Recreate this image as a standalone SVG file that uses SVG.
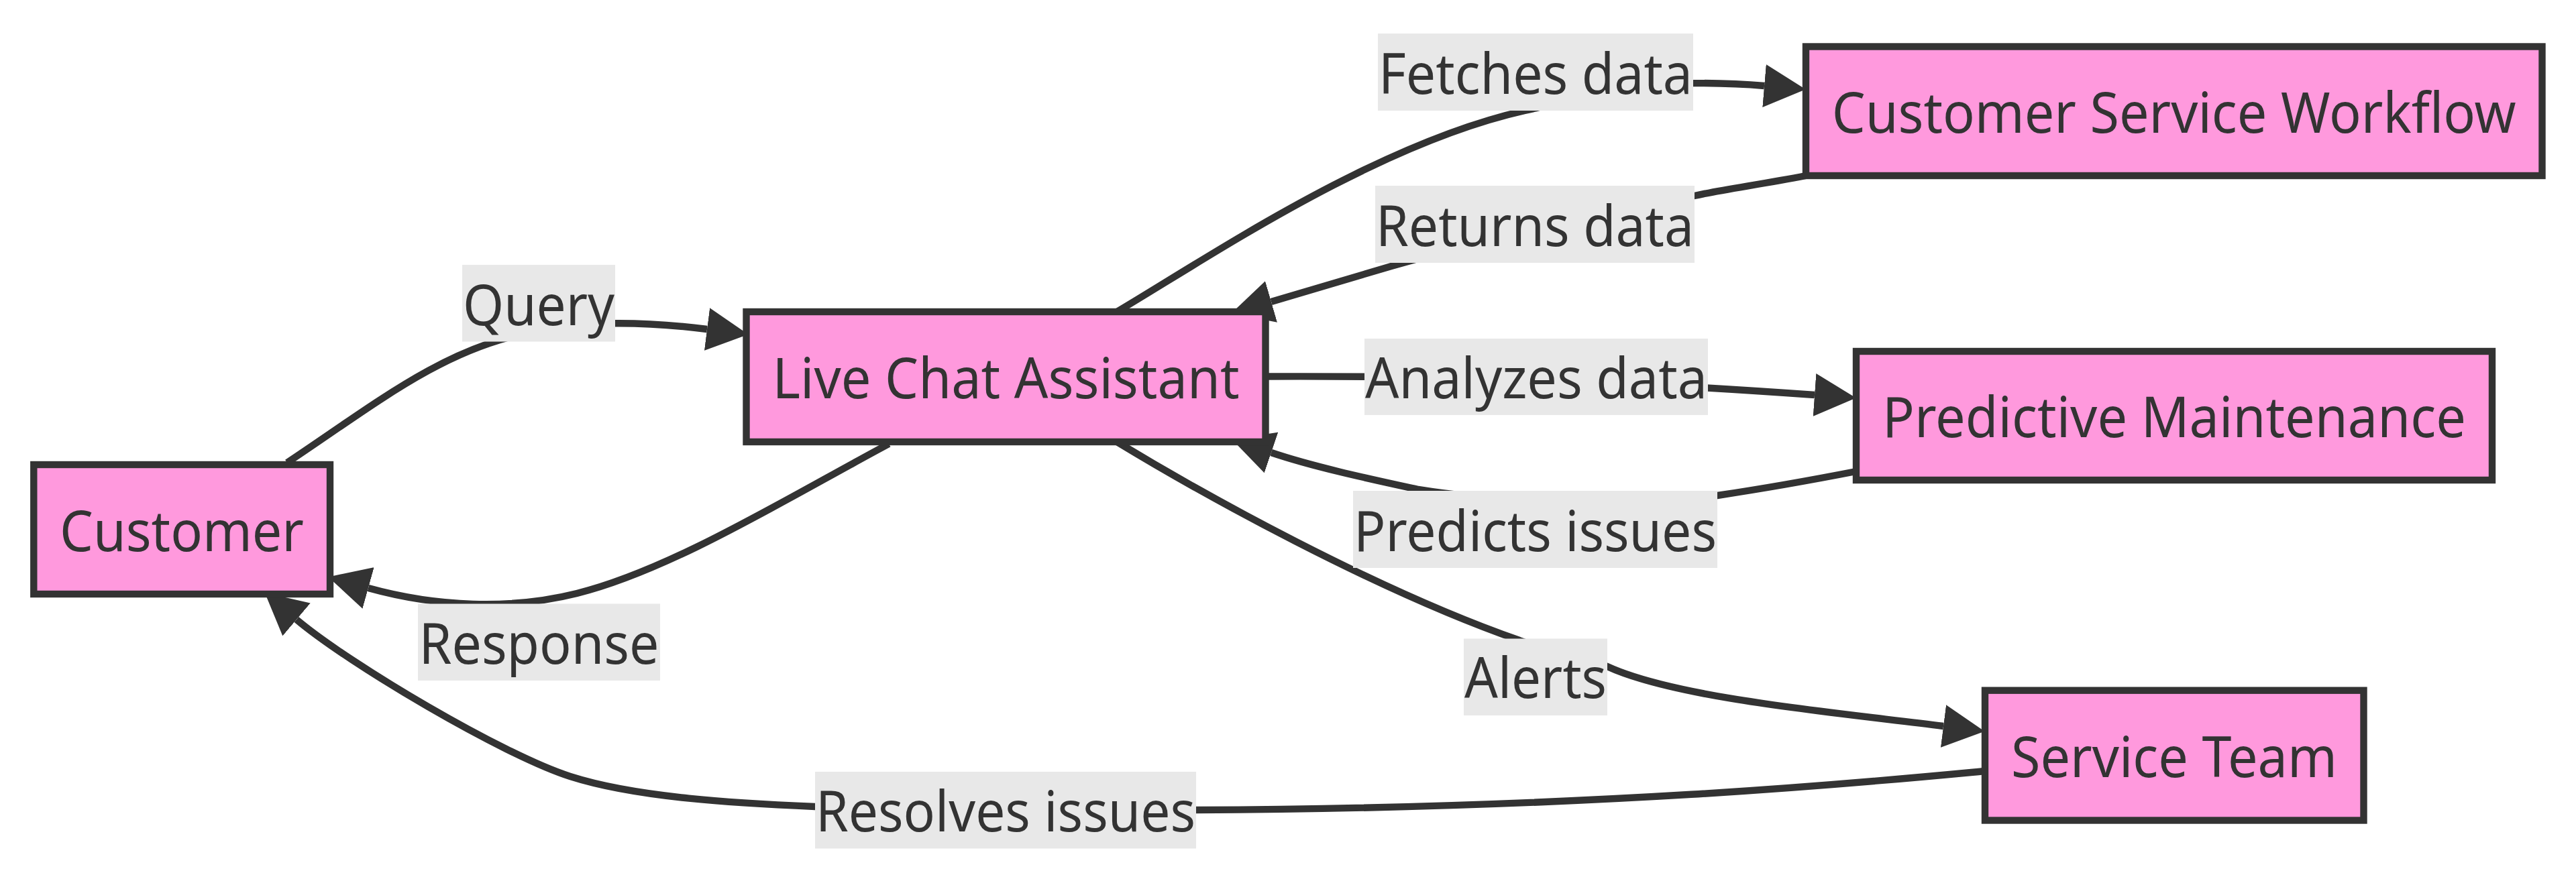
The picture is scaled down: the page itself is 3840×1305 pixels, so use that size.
<svg xmlns="http://www.w3.org/2000/svg" width="3840" height="1305" viewBox="0 0 3840 1305">
<style>
.edge{fill:none;stroke:#333;stroke-width:10.4}
.head{marker-end:url(#arrow)}
.box{fill:#ff99dd;stroke:#333;stroke-width:10.4}
.bg{fill:#e8e8e8}
text{font-family:"Noto Sans","Open Sans",sans-serif;font-size:84px;fill:#333;text-anchor:middle}
</style>
<defs><marker id="arrow" markerUnits="userSpaceOnUse" markerWidth="62" markerHeight="64" viewBox="0 0 60 62" refX="0" refY="31" orient="auto"><path d="M0,0L60,31L0,62z" fill="#333"/></marker></defs>
<rect width="3840" height="1305" fill="#fff"/>
<g id="connectors">
<path class="edge head" d="M428,690C556,605 660,520 790,496C860,478 960,479 1054,491"/>
<path class="edge head" d="M1325,662C1170,745 1000,850 860,885C760,910 650,905 549,877"/>
<path class="edge head" d="M1665,465C1800,385 2050,215 2273,165C2340,150 2440,122 2524,124C2560,124 2595,125 2630,128"/>
<path class="edge head" d="M2692,262C2620,276 2570,282 2526,292C2400,320 2230,352 2074,397C2010,416 1950,434 1895,450"/>
<path class="edge head" d="M1886,561.5C2000,561 2150,562 2300,568C2400,570 2550,578 2705,589"/>
<path class="edge head" d="M2767,703C2690,718 2620,730 2560,739C2450,755 2250,752 2114,730C2050,716 1960,697 1895,675"/>
<path class="edge head" d="M1665,659C1790,735 2050,880 2265,955C2310,972 2350,974 2396,994C2500,1042 2740,1063 2897,1083"/>
<path class="edge head" d="M2959,1150C2800,1165 2400,1205 1783,1208C1600,1209 1400,1210 1215,1203C1100,1198 950,1190 850,1158C750,1126 520,990 442,924"/>
</g>
<g id="edge-labels">
<g id="label-query"><rect class="bg" x="689" y="395" width="228" height="114.5"/><text x="803" y="485" textLength="226" lengthAdjust="spacingAndGlyphs">Query</text></g>
<g id="label-response"><rect class="bg" x="623" y="900.5" width="361" height="114.5"/><text x="803.5" y="990" textLength="358" lengthAdjust="spacingAndGlyphs">Response</text></g>
<g id="label-fetches"><rect class="bg" x="2054" y="50" width="470" height="115"/><text x="2289" y="140" textLength="468" lengthAdjust="spacingAndGlyphs">Fetches data</text></g>
<g id="label-returns"><rect class="bg" x="2050" y="277" width="476" height="115"/><text x="2288" y="367" textLength="474" lengthAdjust="spacingAndGlyphs">Returns data</text></g>
<g id="label-analyzes"><rect class="bg" x="2034" y="505" width="512" height="114"/><text x="2290" y="594" textLength="510" lengthAdjust="spacingAndGlyphs">Analyzes data</text></g>
<g id="label-predicts"><rect class="bg" x="2017" y="732" width="543" height="115"/><text x="2288.5" y="822" textLength="541" lengthAdjust="spacingAndGlyphs">Predicts issues</text></g>
<g id="label-alerts"><rect class="bg" x="2182" y="952.5" width="214" height="114.5"/><text x="2289" y="1041" textLength="212" lengthAdjust="spacingAndGlyphs">Alerts</text></g>
<g id="label-resolves"><rect class="bg" x="1215" y="1151" width="568" height="114.5"/><text x="1499" y="1240" textLength="566" lengthAdjust="spacingAndGlyphs">Resolves issues</text></g>
</g>
<g id="node-customer"><rect class="box" x="50.3" y="693" width="441.7" height="193"/><text x="271" y="821.5" textLength="364" lengthAdjust="spacingAndGlyphs">Customer</text></g>
<g id="node-livechat"><rect class="box" x="1112.5" y="465" width="774" height="194"/><text x="1499.5" y="593.5" textLength="696" lengthAdjust="spacingAndGlyphs">Live Chat Assistant</text></g>
<g id="node-workflow"><rect class="box" x="2692" y="69.5" width="1097.5" height="192.5"/><text x="3240.7" y="197.5" textLength="1020" lengthAdjust="spacingAndGlyphs">Customer Service Workflow</text></g>
<g id="node-predictive"><rect class="box" x="2767" y="524" width="948" height="192"/><text x="3241" y="652" textLength="870" lengthAdjust="spacingAndGlyphs">Predictive Maintenance</text></g>
<g id="node-service"><rect class="box" x="2959" y="1029.7" width="564.5" height="193.8"/><text x="3241" y="1158.5" textLength="486" lengthAdjust="spacingAndGlyphs">Service Team</text></g>
</svg>
